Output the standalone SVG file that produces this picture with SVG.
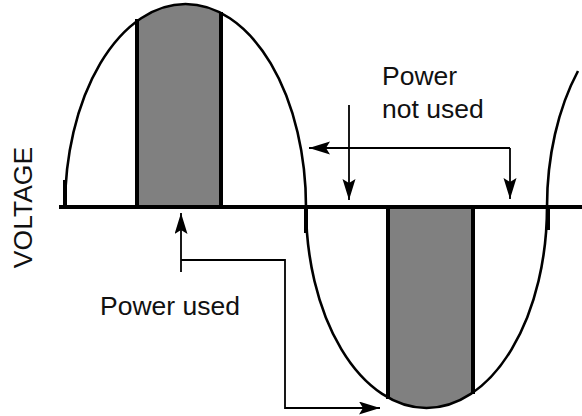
<svg xmlns="http://www.w3.org/2000/svg" width="582" height="416" viewBox="0 0 582 416">
  <style>
    .wave { fill: none; stroke: #000; stroke-width: 2.6; }
    .thick { stroke: #000; stroke-width: 4; fill: none; }
    .band { fill: #808080; }
    .conn { fill: none; stroke: #000; stroke-width: 1.8; }
    .lbl { font-family: "Liberation Sans", Arial, sans-serif; font-size: 26.5px; fill: #111; }
  </style>
  <defs>
    <marker id="ah" markerUnits="userSpaceOnUse" markerWidth="22" markerHeight="14" refX="21" refY="6.5" orient="auto">
      <path d="M0,0 L21,6.5 L0,13 L4,6.5 Z" fill="#000"/>
    </marker>
  </defs>
  <rect width="582" height="416" fill="#fff"/>

  <g id="shaded-positive">
    <path class="band" d="M137,207 L137,21 A120.5,203 0 0,1 221,13.4 L221,207 Z"/>
    <line class="thick" x1="137" y1="19" x2="137" y2="207" stroke-width="5"/>
    <line class="thick" x1="221" y1="12" x2="221" y2="207" stroke-width="5"/>
  </g>
  <g id="shaded-negative">
    <path class="band" d="M388,207 L388,397 A120.5,201 0 0,0 473,392.6 L473,207 Z"/>
    <line class="thick" x1="388" y1="207" x2="388" y2="399" stroke-width="5"/>
    <line class="thick" x1="473" y1="207" x2="473" y2="394" stroke-width="5"/>
  </g>

  <g id="waveform">
    <path class="wave" d="M65,207 A120.5,203 0 0,1 306,207"/>
    <path class="wave" d="M306,207 A120.5,201 0 0,0 547,207"/>
    <path class="wave" d="M547,207 A120.5,203 0 0,1 578,71"/>
    <line class="thick" x1="65" y1="180" x2="65" y2="207"/>
    <line class="thick" x1="306" y1="207" x2="306" y2="233" stroke-width="3"/>
    <line class="thick" x1="548" y1="207" x2="548" y2="230" stroke-width="5"/>
  </g>

  <g id="axis">
    <line class="thick" x1="59" y1="207" x2="582" y2="207"/>
  </g>

  <g id="connectors">
    <path class="conn" d="M181,272 V213" marker-end="url(#ah)"/>
    <path class="conn" d="M181,260 H285 V408 H380" marker-end="url(#ah)"/>
    <path class="conn" d="M349,105 V200" marker-end="url(#ah)"/>
    <path class="conn" d="M510,148 V199" marker-end="url(#ah)"/>
    <path class="conn" d="M510,148 H309" marker-end="url(#ah)"/>
  </g>

  <g id="label-power-not-used">
    <text class="lbl" x="382" y="85">Power</text>
    <text class="lbl" x="382" y="118">not used</text>
  </g>
  <g id="label-power-used">
    <text class="lbl" x="100" y="315">Power used</text>
  </g>
  <g id="label-voltage">
    <text class="lbl" transform="translate(32,207.5) rotate(-90)" text-anchor="middle">VOLTAGE</text>
  </g>
</svg>
